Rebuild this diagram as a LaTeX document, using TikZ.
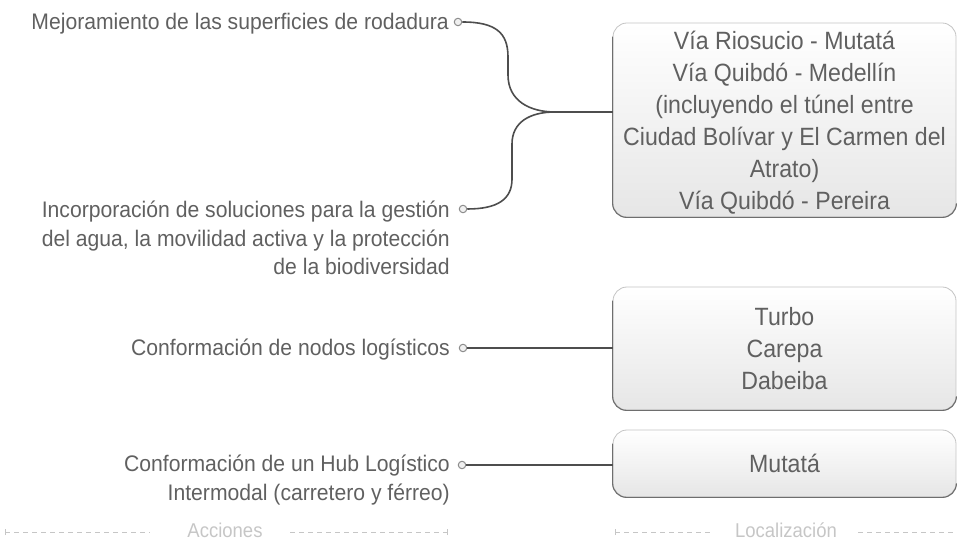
\documentclass[tikz,border=0pt]{standalone}
\usepackage{fontspec}
\setmainfont[FakeStretch=0.925]{Liberation Sans}
\newfontfamily\actfont[FakeStretch=0.94]{Liberation Sans}
\definecolor{txt}{HTML}{606060}
\definecolor{conn}{HTML}{4D4D4D}
\definecolor{axis}{HTML}{C6C6C6}
\definecolor{edgedark}{HTML}{6E6E6E}
\definecolor{edgelight}{HTML}{C4C4C4}
\definecolor{boxbot}{HTML}{E6E6E6}
\begin{document}
\begin{tikzpicture}[x=1pt,y=1pt,
  act/.style={inner sep=0pt, anchor=base east, align=right, text=txt,
    font=\actfont\fontsize{22.5}{28.5}\selectfont},
  dotc/.style={circle, inner sep=0pt, minimum size=7.5pt, draw=black!45, fill=black!6, line width=1pt},
  boxtext/.style={align=center, text=txt, inner sep=0pt, font=\fontsize{25}{32}\selectfont},
  locbox/.style={rounded corners=14pt, minimum width=343pt, align=center, text=txt,
    top color=white, bottom color=boxbot, draw=edgelight, line width=0.8pt,
    font=\fontsize{25}{32}\selectfont},
  conline/.style={draw=conn, line width=1.6pt},
  darkedge/.style={draw=edgedark, line width=1.1pt},
  dashax/.style={draw=axis, line width=0.7pt, dash pattern=on 5pt off 4pt},
  tickax/.style={draw=axis, line width=0.7pt},
  axlabel/.style={inner sep=0pt, text=axis, font=\fontsize{20}{24}\selectfont}
]
\useasboundingbox (0,0) rectangle (957,543);

% action texts (base east = baseline of the last line)
\node[act] (t1) at (449,513) {Mejoramiento de las superficies de rodadura};
\node[act] (t2) at (450,268) {Incorporación de soluciones para la gestión\\del agua, la movilidad activa y la protección\\de la biodiversidad};
\node[act] (t3) at (450,187) {Conformación de nodos logísticos};
\node[act] (t4) at (450,43) {Conformación de un Hub Logístico\\Intermodal (carretero y férreo)};

% location boxes
\node[locbox, minimum height=194pt] (b1) at (784.5,423) {};
\node[boxtext] (b1t) at ([yshift=-3pt]b1.center) {Vía Riosucio - Mutatá\\Vía Quibdó - Medellín\\(incluyendo el túnel entre\\Ciudad Bolívar y El Carmen del\\Atrato)\\Vía Quibdó - Pereira};
\node[locbox, minimum height=123pt] (b2) at (784.5,194.5) {Turbo\\Carepa\\Dabeiba};
\node[locbox, minimum height=67pt] (b3) at (784.5,79.5) {Mutatá};

\foreach \b in {b1,b2,b3}{
  \draw[darkedge] ([yshift=-14pt]\b.north west) -- ([yshift=14pt]\b.south west)
     arc[start angle=180, end angle=270, radius=14pt] -- ([xshift=-14pt]\b.south east)
     arc[start angle=270, end angle=360, radius=14pt];
}

% junction
\coordinate (j) at (555,431);

% circles
\node[dotc] (c1) at (458,521) {};
\node[dotc] (c2) at (463,334) {};
\node[dotc] (c3) at (463,195) {};
\node[dotc] (c4) at (462,78) {};

% connectors
\draw[conline] (c1.east) .. controls (496,521) and (508,510) .. (508,486) -- (508,468)
   .. controls (508,442) and (530,431) .. (j);
\draw[conline] (j) .. controls (530,431) and (512,421) .. (512,399) -- (512,364)
   .. controls (512,344) and (498,334) .. (c2.east);
\draw[conline] (j) -- (j -| b1.west);
\draw[conline] (c3.east) -- (c3.east -| b2.west);
\draw[conline] (c4.east) -- (c4.east -| b3.west);

% axis labels
\node[axlabel] (la) at (225,13) {Acciones};
\node[axlabel] (ll) at (786,13) {Localización};
\draw[dashax] (5,11) -- (150,11);
\draw[tickax] (5,8) -- (5,14);
\draw[dashax] (290,11) -- (447,11);
\draw[tickax] (447,8) -- (447,14);
\draw[dashax] (615,11) -- (712,11);
\draw[tickax] (615,8) -- (615,14);
\draw[dashax] (858,11) -- (957,11);
\end{tikzpicture}
\end{document}
